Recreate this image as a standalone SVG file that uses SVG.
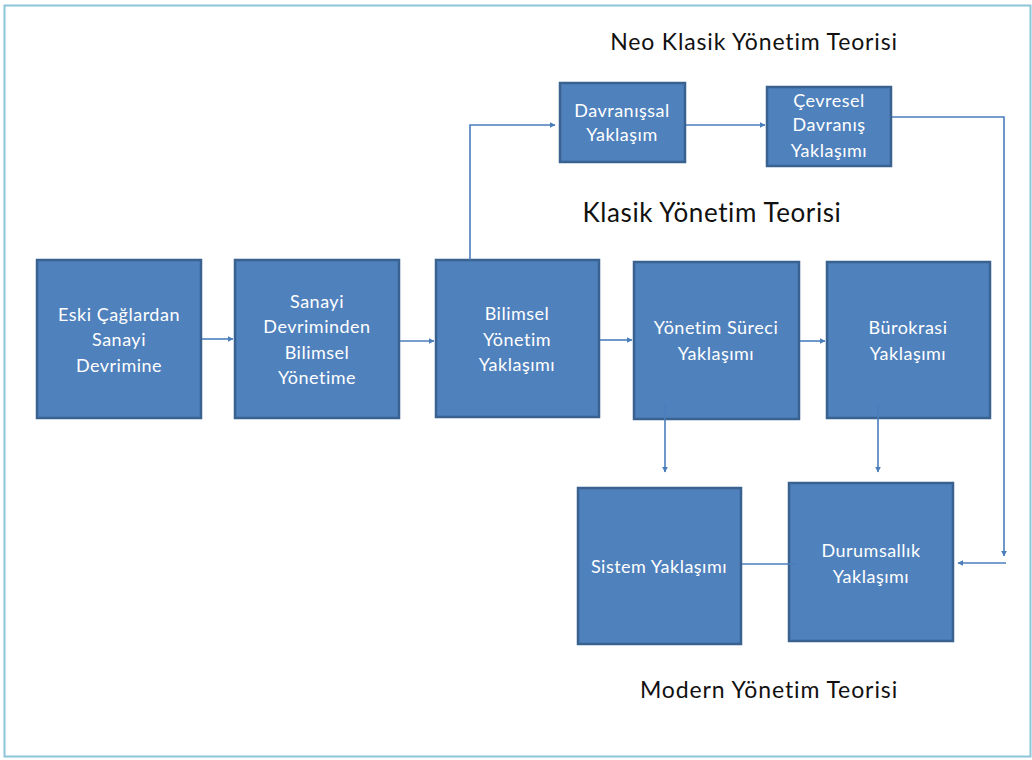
<svg xmlns="http://www.w3.org/2000/svg" width="1032" height="760" viewBox="0 0 1032 760">
<style>
.box{fill:#4F81BD;stroke:#3A6291;stroke-width:2.5}
.t{font-family:Lato,"Liberation Sans",sans-serif;font-size:18px;letter-spacing:0.5px;fill:#fff;text-anchor:middle}
.h{font-family:Lato,"Liberation Sans",sans-serif;fill:#111;text-anchor:middle}
.c{fill:none;stroke:#4A7EBB;stroke-width:1.6}
</style>
<defs>
<marker id="a" viewBox="0 0 10 10" refX="9" refY="5" markerWidth="6" markerHeight="6" orient="auto" markerUnits="userSpaceOnUse">
<path d="M0,0 L10,5 L0,10 z" fill="#4A7EBB"/>
</marker>
</defs>
<rect x="0" y="0" width="1032" height="760" fill="#fff"/>
<rect x="4.5" y="5.5" width="1026" height="751" fill="none" stroke="#8CC4D8" stroke-width="2"/>
<text class="h" x="754" y="50" font-size="23" letter-spacing="0.85">Neo Klasik Yönetim Teorisi</text>
<text class="h" x="712" y="222" font-size="26" letter-spacing="0.6">Klasik Yönetim Teorisi</text>
<text class="h" x="769" y="698" font-size="23" letter-spacing="0.9">Modern Yönetim Teorisi</text>
<g id="n1"><rect class="box" x="37" y="260" width="164" height="158"/>
<text class="t" x="119" y="321">Eski Çağlardan</text><text class="t" x="119" y="346">Sanayi</text><text class="t" x="119" y="372">Devrimine</text></g>
<g id="n2"><rect class="box" x="235" y="260" width="164" height="158"/>
<text class="t" x="317" y="308">Sanayi</text><text class="t" x="317" y="333">Devriminden</text><text class="t" x="317" y="359">Bilimsel</text><text class="t" x="317" y="384">Yönetime</text></g>
<g id="n3"><rect class="box" x="436" y="260" width="163" height="157"/>
<text class="t" x="517" y="320">Bilimsel</text><text class="t" x="517" y="346">Yönetim</text><text class="t" x="517" y="371">Yaklaşımı</text></g>
<g id="n4"><rect class="box" x="634" y="262" width="165" height="157"/>
<text class="t" x="716" y="334">Yönetim Süreci</text><text class="t" x="716" y="360">Yaklaşımı</text></g>
<g id="n5"><rect class="box" x="827" y="262" width="163" height="156"/>
<text class="t" x="908" y="334">Bürokrasi</text><text class="t" x="908" y="360">Yaklaşımı</text></g>
<g id="n6"><rect class="box" x="560" y="83" width="125" height="79"/>
<text class="t" x="622" y="117">Davranışsal</text><text class="t" x="622" y="141">Yaklaşım</text></g>
<g id="n7"><rect class="box" x="767" y="87" width="124" height="79"/>
<text class="t" x="829" y="107">Çevresel</text><text class="t" x="829" y="131">Davranış</text><text class="t" x="829" y="157">Yaklaşımı</text></g>
<g id="n8"><rect class="box" x="578" y="488" width="163" height="156"/>
<text class="t" x="659" y="573">Sistem Yaklaşımı</text></g>
<g id="n9"><rect class="box" x="789" y="483" width="164" height="158"/>
<text class="t" x="871" y="557">Durumsallık</text><text class="t" x="871" y="583">Yaklaşımı</text></g>
<g id="connectors">
<path class="c" d="M202,339 H233" marker-end="url(#a)"/>
<path class="c" d="M400,341 H434" marker-end="url(#a)"/>
<path class="c" d="M600,340 H632" marker-end="url(#a)"/>
<path class="c" d="M800,341 H825" marker-end="url(#a)"/>
<path class="c" d="M470,260 V125 H555" marker-end="url(#a)"/>
<path class="c" d="M686,125 H765" marker-end="url(#a)"/>
<path class="c" d="M892,117 H1004 V556" marker-end="url(#a)"/>
<path class="c" d="M1006,563 H958" marker-end="url(#a)"/>
<path class="c" d="M665,405 V472" marker-end="url(#a)"/>
<path class="c" d="M878,405 V472" marker-end="url(#a)"/>
<path class="c" d="M742,564 H797"/>
</g>
</svg>
